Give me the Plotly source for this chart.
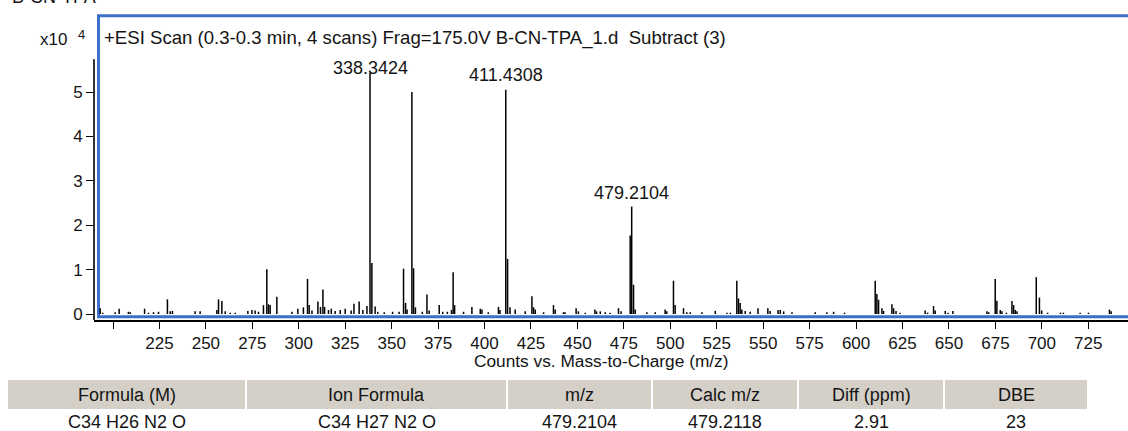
import plotly.graph_objects as go

# ---------------- data ----------------
mz = [193.1, 194.5, 201.2, 203.3, 208.3, 209.3, 217.0, 219.1, 221.8, 224.5,
      229.3, 230.8, 232.0, 244.2, 246.9, 255.9, 256.8, 258.6, 260.4, 263.1,
      265.8, 272.6, 274.8, 276.5, 278.3, 281.0, 282.8, 283.7, 284.6, 288.2,
      296.3, 299.5, 302.5, 304.7, 305.6, 307.1, 310.3, 311.7, 313.0, 313.9,
      316.0, 317.5, 319.6, 322.3, 325.0, 328.2, 329.7, 332.5, 334.5, 336.7,
      338.3424, 339.35, 341.1, 342.5, 346.0, 350.5, 354.0, 356.4, 357.5, 358.3,
      360.9, 361.8, 362.8, 366.5, 369.0, 370.2, 375.6, 377.5, 380.0, 382.2,
      383.1, 383.9, 388.7, 393.2, 397.7, 398.6, 402.0, 407.5, 408.3,
      411.4308, 412.4, 413.7, 416.5, 421.9, 425.5, 426.4, 427.3, 431.8, 437.1,
      438.0, 442.5, 443.3, 449.3, 450.5, 454.2, 459.4, 460.3, 462.3, 465.0,
      467.6, 472.1, 473.5, 478.4, 479.2104, 480.2, 481.1,
      487.4, 491.9, 497.2, 498.1, 501.7, 502.6, 507.1, 508.9, 510.7, 517.0,
      524.2, 530.5, 532.3, 535.8, 536.7, 537.6, 538.5, 540.3, 543.0, 547.2,
      552.5, 553.7, 558.0, 559.2, 561.0, 565.5, 578.0, 584.3, 587.9, 593.8,
      610.3, 611.2, 612.1, 613.9, 614.8, 619.3, 620.2, 621.5, 623.7, 637.2,
      638.5, 641.7, 642.6, 648.0, 649.5, 652.1, 670.4, 671.4, 674.9, 675.8,
      677.6, 678.5, 680.9, 683.9, 684.8, 685.7, 686.6, 697.0, 698.7, 699.9,
      703.1, 710.0, 711.6, 720.6, 725.1, 736.4, 737.3]
intensity = [1300, 300, 400, 1200, 500, 400, 1200, 300, 400, 500,
             3300, 600, 700, 600, 600, 900, 3300, 2900, 600, 300,
             300, 700, 900, 800, 500, 2000, 10100, 2200, 2000, 3900,
             500, 1200, 1500, 7900, 2000, 800, 2800, 1600, 5500, 1600,
             900, 1200, 700, 900, 1200, 800, 2300, 2800, 900, 1800,
             54300, 11500, 1700, 500, 400, 500, 500, 10200, 2500, 1000,
             50000, 10300, 1500, 500, 4400, 800, 2000, 500, 500, 900,
             9400, 2000, 500, 1600, 1200, 1000, 400, 1600, 900,
             50500, 12400, 1500, 1000, 600, 4000, 1500, 1000, 400, 2000,
             1000, 400, 400, 1300, 600, 300, 1000, 600, 600, 400,
             300, 1300, 600, 17700, 24200, 6600, 1000,
             400, 400, 1000, 600, 7500, 2000, 1300, 400, 400, 400,
             700, 300, 300, 7500, 3500, 2500, 1000, 700, 500, 1300,
             1300, 700, 900, 900, 600, 400, 400, 400, 500, 300,
             7500, 4500, 3200, 1300, 700, 2200, 1300, 700, 300, 800,
             300, 1800, 800, 700, 300, 700, 600, 400, 7900, 3000,
             900, 600, 300, 2900, 2000, 900, 600, 8300, 3700, 800,
             300, 300, 300, 300, 300, 1000, 600]

label_mz = [338.3424, 411.4308, 479.2104]
label_text = ["338.3424", "411.4308", "479.2104"]

x_ticks = [200, 225, 250, 275, 300, 325, 350, 375, 400, 425, 450, 475, 500,
           525, 550, 575, 600, 625, 650, 675, 700, 725]
x_tick_text = [""] + [str(v) for v in x_ticks[1:]]
y_ticks = [0, 10000, 20000, 30000, 40000, 50000]
y_tick_text = ["0", "1", "2", "3", "4", "5"]

sample_name = "B-CN-TPA"
scan_title = "+ESI Scan (0.3-0.3 min, 4 scans) Frag=175.0V B-CN-TPA_1.d\u00a0 Subtract (3)"
x_title = "Counts vs. Mass-to-Charge (m/z)"
y_scale_text = "x10"
y_scale_exp = "4"

table_headers = ["Formula (M)", "Ion Formula", "m/z", "Calc m/z", "Diff (ppm)", "DBE"]
table_row = ["C34 H26 N2 O", "C34 H27 N2 O", "479.2104", "479.2118", "2.91", "23"]

# ---------------- geometry ----------------
W, H = 1128, 431
L, R, T, B = 94, 0, 15, 111
PW, PH = W - L - R, H - T - B
BOTTOM = H - B


def px(p):
    return (p - L) / PW


def py(p):
    return (BOTTOM - p) / PH


UNIT_PX = 1.8577          # pixels per m/z unit
X200_PX = 113.0           # pixel of m/z 200
x_range = [200 - (X200_PX - L) / UNIT_PX, 200 + (W - R - X200_PX) / UNIT_PX]
ZERO_PX = 314.0
Y_PX = 44.4 / 10000.0
y_range = [-(BOTTOM - ZERO_PX) / Y_PX, (ZERO_PX - T) / Y_PX]

FONT = "Liberation Sans, Arial, sans-serif"
TXT = "#141414"
FS = 18

# ---------------- stick spectrum ----------------
sx, sy = [], []
for m, v in zip(mz, intensity):
    sx += [m, m, None]
    sy += [0, v, None]

fig = go.Figure()
fig.add_trace(go.Scatter(x=sx, y=sy, mode="lines",
                         line=dict(color="black", width=1.5),
                         hoverinfo="skip", showlegend=False))

annotations = []
# peak labels
label_shift = [5, 15, 14]
for m, t, s in zip(label_mz, label_text, label_shift):
    v = intensity[mz.index(m)]
    annotations.append(dict(x=m, y=v, xref="x", yref="y", text=t, showarrow=False,
                            xanchor="center", yanchor="middle", yshift=s,
                            font=dict(family=FONT, size=FS, color=TXT)))

# texts
annotations += [
    dict(x=px(10), y=py(9), xref="paper", yref="paper", text=sample_name,
         showarrow=False, xanchor="left", yanchor="bottom",
         font=dict(family=FONT, size=FS, color=TXT)),
    dict(x=px(102), y=py(38), xref="paper", yref="paper", text=scan_title,
         showarrow=False, xanchor="left", yanchor="middle",
         font=dict(family=FONT, size=18.6, color=TXT)),
    dict(x=px(69), y=py(39), xref="paper", yref="paper", text=y_scale_text,
         showarrow=False, xanchor="right", yanchor="middle",
         font=dict(family=FONT, size=FS - 1, color=TXT)),
    dict(x=px(76), y=py(34), xref="paper", yref="paper", text=y_scale_exp,
         showarrow=False, xanchor="left", yanchor="middle",
         font=dict(family=FONT, size=13, color=TXT)),
    dict(x=px(601), y=py(361), xref="paper", yref="paper", text=x_title,
         showarrow=False, xanchor="center", yanchor="middle",
         font=dict(family=FONT, size=17.3, color=TXT)),
]

shapes = [
    # blue frame (left, top, bottom; open on the right)
    dict(type="rect", xref="paper", yref="paper", x0=px(98.5), x1=1.02,
         y0=py(316.8), y1=py(15.7), line=dict(color="#3b6fc8", width=3),
         fillcolor="rgba(0,0,0,0)", layer="below"),
    # black y axis line
    dict(type="line", xref="paper", yref="y", x0=0, x1=0, y0=y_range[0], y1=57400,
         line=dict(color="black", width=1.6), layer="above"),
]

# table
col_edges = [7, 246, 507, 652, 798, 944, 1088]
HEAD_TOP, HEAD_BOT = 380, 409
for i, (h, v) in enumerate(zip(table_headers, table_row)):
    a, b = col_edges[i], col_edges[i + 1]
    shapes.append(dict(type="rect", xref="paper", yref="paper",
                       x0=px(a + 1), x1=px(b - 1), y0=py(HEAD_BOT), y1=py(HEAD_TOP),
                       line=dict(width=0), fillcolor="#d4d0c8", layer="below"))
    cx = (a + b) / 2
    annotations.append(dict(x=px(cx), y=py(395), xref="paper", yref="paper", text=h,
                            showarrow=False, xanchor="center", yanchor="middle",
                            font=dict(family=FONT, size=18, color=TXT)))
    annotations.append(dict(x=px(cx), y=py(422), xref="paper", yref="paper", text=v,
                            showarrow=False, xanchor="center", yanchor="middle",
                            font=dict(family=FONT, size=18, color=TXT)))

fig.update_layout(
    width=W, height=H,
    margin=dict(l=L, r=R, t=T, b=B, pad=0),
    paper_bgcolor="white", plot_bgcolor="white",
    showlegend=False,
    annotations=annotations, shapes=shapes,
    xaxis=dict(range=x_range, tickmode="array", tickvals=x_ticks, ticktext=x_tick_text,
               ticks="outside", ticklen=7, tickwidth=1.3, tickcolor="black",
               showline=True, linecolor="black", linewidth=1.6,
               showgrid=False, zeroline=False,
               tickfont=dict(family=FONT, size=FS - 1, color=TXT)),
    yaxis=dict(range=y_range, tickmode="array", tickvals=y_ticks, ticktext=y_tick_text,
               ticks="outside", ticklen=7, tickwidth=1.3, tickcolor="black",
               showline=False, showgrid=False, zeroline=False,
               tickfont=dict(family=FONT, size=FS - 1, color=TXT)),
)

fig.write_html("out.html")
